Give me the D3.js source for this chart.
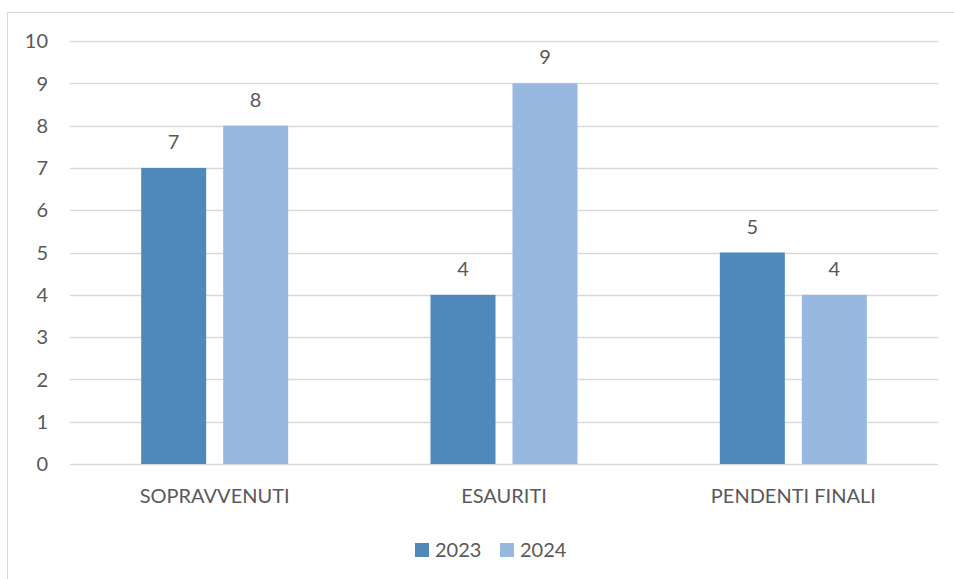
<!doctype html>
<html lang="it">
<head>
  <meta charset="utf-8">
  <title>Sopravvenuti / Esauriti / Pendenti</title>
  <script src="https://cdnjs.cloudflare.com/ajax/libs/d3/7.8.5/d3.min.js"></script>
  <style>
    body { margin: 0; background: #fff; }
    text { font-family: Lato, "Open Sans", sans-serif; fill: #595959; }
  </style>
</head>
<body>
<svg width="954" height="579" id="svg"></svg>
<script>
  var categories = ['SOPRAVVENUTI', 'ESAURITI', 'PENDENTI FINALI'];
  var series = ['2023', '2024'];
  var values2023 = [7, 4, 5];
  var values2024 = [8, 9, 4];
  var yTicks = [0, 1, 2, 3, 4, 5, 6, 7, 8, 9, 10];
  var colors = ['#4F88BB', '#97B9E0'];

  var svg = d3.select('#svg');

  // outer frame (runs off the right and bottom edge like the original)
  svg.append('rect')
    .attr('x', 7.5).attr('y', 12.5)
    .attr('width', 1000).attr('height', 1000)
    .attr('fill', 'none')
    .attr('stroke', '#d9d9d9');

  var y = d3.scaleLinear().domain([0, 10]).range([464, 41]);
  var x0 = d3.scaleBand().domain(categories).range([70, 938]).padding(0);
  var pair = 147;
  var x1 = d3.scaleBand().domain(series)
    .range([(x0.bandwidth() - pair) / 2, (x0.bandwidth() + pair) / 2])
    .paddingInner(17 / 82);
  var color = d3.scaleOrdinal().domain(series).range(colors);

  // gridlines
  svg.selectAll('.grid')
    .data(yTicks)
    .enter()
    .append('line')
    .attr('class', 'grid')
    .attr('x1', 70).attr('x2', 938)
    .attr('y1', function(d) { return Math.round(y(d)) + 0.5; })
    .attr('y2', function(d) { return Math.round(y(d)) + 0.5; })
    .attr('stroke', '#d9d9d9')
    .attr('stroke-width', 1.3);

  // y tick labels
  svg.selectAll('.ytick')
    .data(yTicks)
    .enter()
    .append('text')
    .attr('class', 'ytick')
    .attr('x', 48)
    .attr('y', function(d) { return y(d); })
    .attr('dy', '0.36em')
    .attr('text-anchor', 'end')
    .attr('font-size', 20)
    .text(function(d) { return d; });

  var rows = [];
  categories.forEach(function(c, i) {
    rows.push({cat: c, s: '2023', v: values2023[i]});
    rows.push({cat: c, s: '2024', v: values2024[i]});
  });

  svg.selectAll('.bar')
    .data(rows)
    .enter()
    .append('rect')
    .attr('class', 'bar')
    .attr('x', function(d) { return x0(d.cat) + x1(d.s); })
    .attr('y', function(d) { return y(d.v); })
    .attr('width', x1.bandwidth())
    .attr('height', function(d) { return y(0) - y(d.v); })
    .attr('fill', function(d) { return color(d.s); });

  // value labels above bars
  svg.selectAll('.val')
    .data(rows)
    .enter()
    .append('text')
    .attr('class', 'val')
    .attr('x', function(d) { return x0(d.cat) + x1(d.s) + x1.bandwidth() / 2; })
    .attr('y', function(d) { return y(d.v) - 19; })
    .attr('text-anchor', 'middle')
    .attr('font-size', 20)
    .text(function(d) { return d.v; });

  // category labels
  svg.selectAll('.cat')
    .data(categories)
    .enter()
    .append('text')
    .attr('class', 'cat')
    .attr('x', function(d) { return x0(d) + x0.bandwidth() / 2; })
    .attr('y', 503)
    .attr('text-anchor', 'middle')
    .attr('font-size', 20)
    .text(function(d) { return d; });

  // legend
  var legend = svg.selectAll('.leg')
    .data(series)
    .enter()
    .append('g')
    .attr('class', 'leg')
    .attr('transform', function(d, i) { return 'translate(' + (415 + i * 85) + ',543)'; });

  legend.append('rect')
    .attr('width', 14).attr('height', 14)
    .attr('fill', function(d) { return color(d); });

  legend.append('text')
    .attr('x', 20).attr('y', 14)
    .attr('font-size', 20)
    .text(function(d) { return d; });
</script>
</body>
</html>
